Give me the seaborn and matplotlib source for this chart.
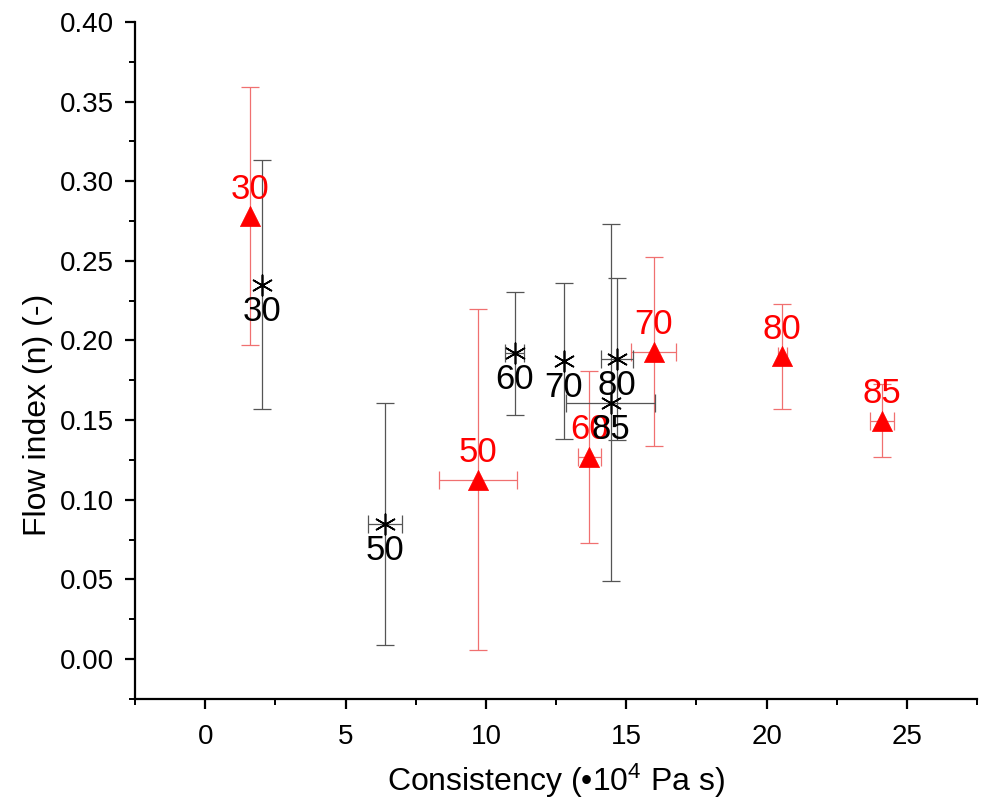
import matplotlib
matplotlib.use("Agg")
import matplotlib.pyplot as plt
import seaborn as sns
import pandas as pd
import numpy as np
from matplotlib.ticker import MultipleLocator

# ---- data ----
black_labels = ["30", "50", "60", "70", "80", "85"]
black_x = [2.02, 6.41, 11.02, 12.78, 14.67, 14.44]
black_y = [0.235, 0.085, 0.192, 0.187, 0.1885, 0.161]
black_xerr = [0.0, 0.60, 0.33, 0.0, 0.57, 1.58]
black_yerr = [0.078, 0.076, 0.0385, 0.049, 0.051, 0.112]

red_labels = ["30", "50", "60", "70", "80", "85"]
red_x = [1.59, 9.73, 13.69, 15.98, 20.55, 24.10]
red_y = [0.278, 0.1125, 0.127, 0.193, 0.190, 0.1497]
red_xerr = [0.0, 1.39, 0.40, 0.80, 0.16, 0.43]
red_yerr = [0.081, 0.107, 0.054, 0.0595, 0.033, 0.023]

x_ticks = [0, 5, 10, 15, 20, 25]
y_ticks = [0.00, 0.05, 0.10, 0.15, 0.20, 0.25, 0.30, 0.35, 0.40]

sns.set_style("ticks")
plt.rcParams['font.family'] = ['Liberation Sans', 'DejaVu Sans']
plt.rcParams['mathtext.fontset'] = 'custom'
plt.rcParams['mathtext.rm'] = 'Liberation Sans'
plt.rcParams['mathtext.default'] = 'regular'
plt.rcParams['axes.labelcolor'] = 'black'
plt.rcParams['text.color'] = 'black'

fig = plt.figure(figsize=(9.82, 8.09), dpi=100)
ax = fig.add_axes([0.1375, 0.136, 0.8575, 0.837])

df_b = pd.DataFrame({"x": black_x, "y": black_y, "lab": black_labels})
df_r = pd.DataFrame({"x": red_x, "y": red_y, "lab": red_labels})

# error bars
ax.errorbar(red_x, red_y, xerr=red_xerr, yerr=red_yerr, fmt='none',
            ecolor='#f07070', elinewidth=0.9, capsize=6.5, capthick=0.9, zorder=2)
ax.errorbar(black_x, black_y, xerr=black_xerr, yerr=black_yerr, fmt='none',
            ecolor='#555555', elinewidth=0.9, capsize=6.5, capthick=0.9, zorder=2)

# markers
sns.scatterplot(data=df_r, x="x", y="y", marker='^', s=210, color='#ff0000',
                edgecolor='#ff0000', linewidth=0.5, ax=ax, zorder=3)
sns.scatterplot(data=df_b, x="x", y="y", marker=(6, 2, 0), s=220, color='black',
                linewidth=1.2, ax=ax, zorder=3)

for x, y, t in zip(red_x, red_y, red_labels):
    ax.annotate(t, (x, y), xytext=(0, 19.5), textcoords='offset points',
                ha='center', va='center', color='#ff0000', fontsize=25, zorder=4)
for x, y, t in zip(black_x, black_y, black_labels):
    ax.annotate(t, (x, y), xytext=(0, -19), textcoords='offset points',
                ha='center', va='center', color='black', fontsize=25, zorder=5)

ax.set_xlim(-2.5, 27.5)
ax.set_ylim(-0.025, 0.40)
ax.set_xticks(x_ticks)
ax.set_yticks(y_ticks)
ax.set_yticklabels([f"{v:.2f}" for v in y_ticks])
ax.xaxis.set_minor_locator(MultipleLocator(2.5))
ax.yaxis.set_minor_locator(MultipleLocator(0.025))

for s in ['top', 'right']:
    ax.spines[s].set_visible(False)
for s in ['left', 'bottom']:
    ax.spines[s].set_linewidth(1.6)
    ax.spines[s].set_color('black')

ax.tick_params(which='major', direction='out', length=7, width=1.6, labelsize=20,
               colors='black')
ax.tick_params(axis='x', which='major', pad=11)
ax.tick_params(axis='y', which='major', pad=8)
ax.tick_params(which='minor', direction='out', length=4, width=1.4, colors='black')

ax.set_xlabel("Consistency (•10$^4$ Pa s)", fontsize=23, color='black')
ax.xaxis.set_label_coords(0.5, -0.093)
ax.set_ylabel("Flow index (n) (-)", fontsize=23, color='black')
ax.yaxis.set_label_coords(-0.098, 0.42)

fig.savefig("out.png", dpi=100)
